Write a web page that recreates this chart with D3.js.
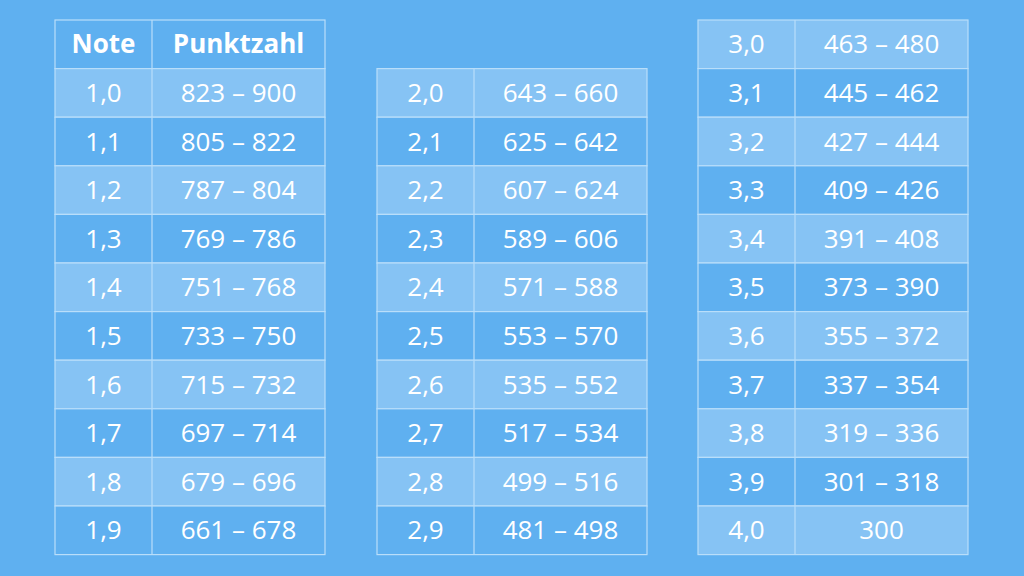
<!DOCTYPE html>
<html>
<head>
<meta charset="utf-8">
<script src="https://cdn.jsdelivr.net/npm/d3@7"></script>
<style>
  body { margin: 0; background: #5fb0f0; }
  text { font-family: "Open Sans", sans-serif; fill: #fff; }
</style>
</head>
<body>
<div id="wrapper"></div>
<script>
// table contents
const headers = ["Note", "Punktzahl"]
const notes1 = ["1,0","1,1","1,2","1,3","1,4","1,5","1,6","1,7","1,8","1,9"]
const points1 = ["823 – 900","805 – 822","787 – 804","769 – 786","751 – 768","733 – 750","715 – 732","697 – 714","679 – 696","661 – 678"]
const notes2 = ["2,0","2,1","2,2","2,3","2,4","2,5","2,6","2,7","2,8","2,9"]
const points2 = ["643 – 660","625 – 642","607 – 624","589 – 606","571 – 588","553 – 570","535 – 552","517 – 534","499 – 516","481 – 498"]
const notes3 = ["3,0","3,1","3,2","3,3","3,4","3,5","3,6","3,7","3,8","3,9","4,0"]
const points3 = ["463 – 480","445 – 462","427 – 444","409 – 426","391 – 408","373 – 390","355 – 372","337 – 354","319 – 336","301 – 318","300"]

const width = 1024, height = 576
const rowH = 48.6
const tableTop = 20
const col1W = 97, col2W = 173

const svg = d3.select("#wrapper").append("svg")
  .attr("width", width).attr("height", height)

svg.append("rect").attr("width", width).attr("height", height).attr("fill", "#5fb0f0")

// one table: x position, rows, starting row slot, optional header
function drawTable(x, notes, points, startSlot, withHeader) {
  const g = svg.append("g")
  const rows = notes.map((n, i) => ({ note: n, pts: points[i], slot: startSlot + i, light: i % 2 === 0 }))
  if (withHeader) rows.unshift({ note: headers[0], pts: headers[1], slot: 0, header: true })
  const y = d => tableTop + d.slot * rowH

  const row = g.selectAll(".row").data(rows).join("g")
    .attr("transform", d => `translate(${x}, ${y(d)})`)
  row.append("rect")
    .attr("width", col1W + col2W).attr("height", rowH)
    .attr("fill", d => d.light ? "#86c3f4" : "#5fb0f0")
    .attr("stroke", "#b9defa").attr("stroke-width", 1.2)
  row.append("line")
    .attr("x1", col1W).attr("x2", col1W).attr("y1", 0).attr("y2", rowH)
    .attr("stroke", "#b9defa").attr("stroke-width", 1.2)
  row.append("text")
    .attr("x", col1W / 2).attr("y", rowH / 2).attr("dy", "0.35em")
    .attr("text-anchor", "middle")
    .style("font-size", "26px").style("font-weight", d => d.header ? 700 : 400)
    .text(d => d.note)
  row.append("text")
    .attr("x", col1W + col2W / 2).attr("y", rowH / 2).attr("dy", "0.35em")
    .attr("text-anchor", "middle")
    .style("font-size", "26px").style("font-weight", d => d.header ? 700 : 400)
    .text(d => d.pts)
}

drawTable(55, notes1, points1, 1, true)
drawTable(377, notes2, points2, 1, false)
drawTable(698, notes3, points3, 0, false)
</script>
</body>
</html>
